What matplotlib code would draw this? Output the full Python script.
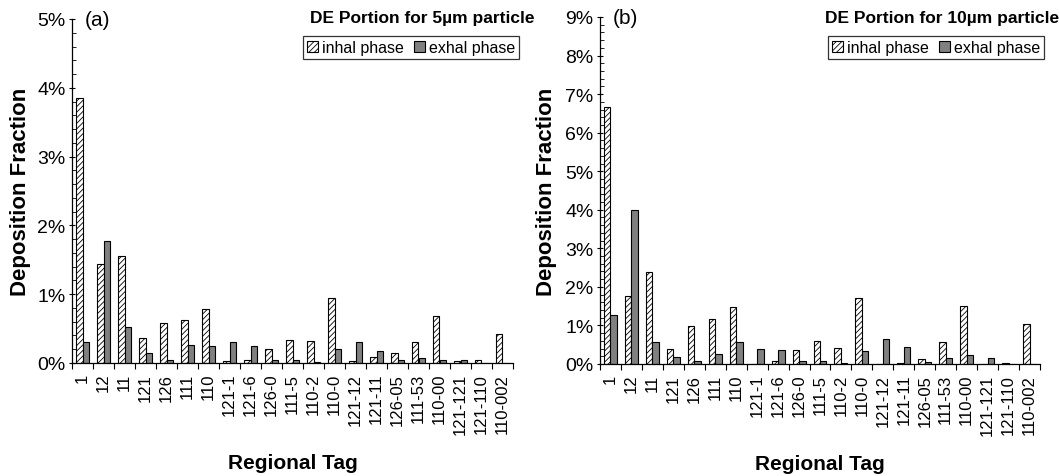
import matplotlib
matplotlib.use("Agg")
import matplotlib.pyplot as plt
import numpy as np
from matplotlib.ticker import FixedLocator, MultipleLocator, FuncFormatter
from matplotlib.patches import Patch

plt.rcParams['font.family'] = ['Liberation Sans', 'DejaVu Sans']
plt.rcParams['hatch.linewidth'] = 0.6

tags = ["1", "12", "11", "121", "126", "111", "110", "121-1", "121-6", "126-0",
        "111-5", "110-2", "110-0", "121-12", "121-11", "126-05", "111-53",
        "110-00", "121-121", "121-110", "110-002"]

# deposition fractions in percent, 5 um particles
inhal_5 = [3.85, 1.44, 1.55, 0.37, 0.58, 0.62, 0.79, 0.03, 0.04, 0.21, 0.33,
           0.32, 0.95, 0.03, 0.09, 0.14, 0.30, 0.69, 0.03, 0.05, 0.42]
exhal_5 = [0.30, 1.77, 0.52, 0.15, 0.05, 0.26, 0.24, 0.30, 0.24, 0.04, 0.04,
           0.01, 0.21, 0.30, 0.18, 0.04, 0.07, 0.04, 0.05, 0.00, 0.00]

# deposition fractions in percent, 10 um particles
inhal_10 = [6.66, 1.77, 2.38, 0.38, 0.98, 1.16, 1.47, 0.01, 0.08, 0.36, 0.59,
            0.42, 1.70, 0.01, 0.02, 0.14, 0.58, 1.50, 0.00, 0.02, 1.05]
exhal_10 = [1.27, 4.00, 0.57, 0.17, 0.08, 0.27, 0.56, 0.40, 0.36, 0.08, 0.08,
            0.03, 0.34, 0.64, 0.45, 0.06, 0.15, 0.23, 0.15, 0.00, 0.00]

panels = [
    dict(label="(a)", title="DE Portion for 5\u00b5m particle", inhal=inhal_5,
         exhal=exhal_5, ymax=5,
         rect=[72 / 1059, 113 / 477, 441 / 1059, 344 / 477],
         ylab_x=-0.093, xlab_y=-0.262,
         leg_anchor=(519 / 1059, 1 - 37 / 477), leg_loc="upper right",
         title_x=534 / 1059),
    dict(label="(b)", title="DE Portion for 10\u00b5m particle", inhal=inhal_10,
         exhal=exhal_10, ymax=9,
         rect=[600 / 1059, 112 / 477, 440 / 1059, 347 / 477],
         ylab_x=-0.098, xlab_y=-0.259,
         leg_anchor=(828 / 1059, 1 - 37 / 477), leg_loc="upper left",
         title_x=1059 / 1059),
]

fig = plt.figure(figsize=(10.59, 4.77), dpi=100)
fig.patch.set_facecolor("white")

n = len(tags)
x = np.arange(n) + 0.5
w = 0.31
inhal_style = dict(facecolor="white", edgecolor="black", hatch="//////", linewidth=0.8)
exhal_style = dict(facecolor="#808080", edgecolor="black", linewidth=0.8)

for p in panels:
    ax = fig.add_axes(p["rect"])
    ax.bar(x - w / 2, p["inhal"], width=w, **inhal_style)
    ax.bar(x + w / 2, p["exhal"], width=w, **exhal_style)

    ax.set_xlim(0, n)
    ax.set_ylim(0, p["ymax"])
    for s in ("top", "right"):
        ax.spines[s].set_visible(False)
    for s in ("left", "bottom"):
        ax.spines[s].set_linewidth(0.9)

    ax.xaxis.set_major_locator(FixedLocator(x))
    ax.set_xticklabels(tags, rotation=90, fontsize=12)
    ax.xaxis.set_minor_locator(FixedLocator(np.arange(n + 1)))
    ax.tick_params(axis="x", which="major", length=0, pad=7)
    ax.tick_params(axis="x", which="minor", length=4, width=0.8, direction="out")

    ax.yaxis.set_major_locator(MultipleLocator(1))
    ax.yaxis.set_minor_locator(MultipleLocator(0.2))
    ax.yaxis.set_major_formatter(FuncFormatter(lambda v, _: f"{v:.0f}%"))
    ax.tick_params(axis="y", which="major", length=5, width=0.8, direction="inout",
                   labelsize=14, pad=2)
    ax.tick_params(axis="y", which="minor", length=3, width=0.6, direction="in")

    ax.set_ylabel("Deposition Fraction", fontsize=16, fontweight="bold")
    ax.yaxis.set_label_coords(p["ylab_x"], 0.5)
    ax.set_xlabel("Regional Tag", fontsize=15, fontweight="bold")
    ax.xaxis.set_label_coords(0.5, p["xlab_y"])

    ax.text(0.03, 1.0, p["label"], transform=ax.transAxes, fontsize=15,
            va="center", ha="left")
    fig.text(p["title_x"], 1 - 18 / 477, p["title"], fontsize=12.5, fontweight="bold",
             ha="right", va="center")

    handles = [Patch(**inhal_style, label="inhal phase"),
               Patch(**exhal_style, label="exhal phase")]
    leg = fig.legend(handles=handles, loc=p["leg_loc"], bbox_to_anchor=p["leg_anchor"],
                     ncol=2, fontsize=11.5, frameon=True, fancybox=False,
                     handlelength=0.7, handleheight=0.7, handletextpad=0.25,
                     columnspacing=0.6, borderpad=0.25, borderaxespad=0)
    leg.get_frame().set_edgecolor("black")
    leg.get_frame().set_linewidth(0.9)

fig.savefig("out.png", dpi=100, facecolor="white")
